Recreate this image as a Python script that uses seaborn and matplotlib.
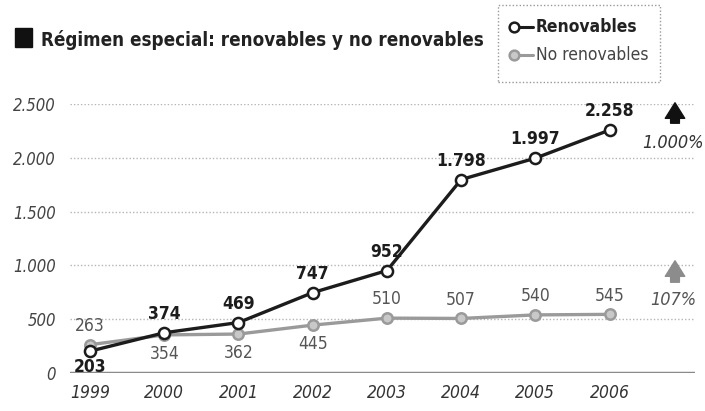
import numpy as np
import pandas as pd
import seaborn as sns
import matplotlib.pyplot as plt
from matplotlib import font_manager
from matplotlib.patches import Rectangle, FancyArrowPatch
from matplotlib.lines import Line2D

# datos (MW)
years = [1999, 2000, 2001, 2002, 2003, 2004, 2005, 2006]
renovables = [203, 374, 469, 747, 952, 1798, 1997, 2258]
no_renovables = [263, 354, 362, 445, 510, 507, 540, 545]
y_ticks = [0, 500, 1000, 1500, 2000, 2500]
y_tick_labels = ['0', '500', '1.000', '1.500', '2.000', '2.500']
# etiqueta encima (True) o debajo (False)
renov_above = [False, True, True, True, True, True, True, True]
norenov_above = [True, False, False, False, True, True, True, True]

sns.set_style('white')
# buscar una fuente estrecha, si no hay usar Liberation Sans
f = font_manager.findfont(font_manager.FontProperties(family='DejaVu Sans', stretch='condensed'))
if 'Condensed' in f:
    plt.rcParams['font.family'] = ['DejaVu Sans']
    plt.rcParams['font.stretch'] = 'condensed'
else:
    plt.rcParams['font.family'] = ['Liberation Sans', 'DejaVu Sans']

df = pd.DataFrame({'year': years, 'Renovables': renovables, 'No renovables': no_renovables})

fig = plt.figure(figsize=(7.05, 4.11), dpi=100)
W, H = 705, 411
ax = fig.add_axes([70 / W, 1 - 373 / H, (695 - 70) / W, (373 - 104) / H])

black = '#1c1c1c'
gray = '#9a9a9a'

# gridlines
for t in y_ticks[1:]:
    ax.axhline(t, color='#b5b5b5', lw=1, ls=(0, (1, 1.5)), zorder=0)
ax.axhline(0, color='#8a8a8a', lw=2.5, zorder=1)

sns.lineplot(data=df, x='year', y='No renovables', ax=ax, color=gray, lw=2.4,
             marker='o', markersize=7.5, markerfacecolor='#c8c8c8',
             markeredgecolor=gray, markeredgewidth=1.8, zorder=3)
sns.lineplot(data=df, x='year', y='Renovables', ax=ax, color=black, lw=2.4,
             marker='o', markersize=8, markerfacecolor='white',
             markeredgecolor=black, markeredgewidth=1.8, zorder=4)

def fmt(v):
    return f'{v:,}'.replace(',', '.')

for x, v, up in zip(years, renovables, renov_above):
    ax.annotate(fmt(v), (x, v), xytext=(0, 7 if up else -5), textcoords='offset points',
                ha='center', va='bottom' if up else 'top', fontsize=12.5,
                fontweight='bold', color=black, zorder=5)
for x, v, up in zip(years, no_renovables, norenov_above):
    ax.annotate(fmt(v), (x, v), xytext=(0, 7 if up else -7), textcoords='offset points',
                ha='center', va='bottom' if up else 'top', fontsize=12.5,
                color='#555555', zorder=5)

ax.set_xlim(1999 - 0.27, 2006 + 1.15)
ax.set_ylim(0, 2500)
ax.set_xticks(years)
ax.set_xticklabels([str(y) for y in years], fontstyle='italic', fontsize=12.5, color='#333333')
ax.set_yticks(y_ticks)
ax.set_yticklabels(y_tick_labels, fontstyle='italic', fontsize=12, color='#444444')
ax.tick_params(axis='x', length=0, pad=8)
ax.tick_params(axis='y', length=0, pad=10)
ax.set_xlabel('')
ax.set_ylabel('')
for s in ax.spines.values():
    s.set_visible(False)

# titulo
fig.patches.append(Rectangle((15 / W, 1 - 47 / H), 17 / W, 19 / H, transform=fig.transFigure,
                             color='#111111'))
fig.text(41 / W, 1 - 40 / H, 'Régimen especial: renovables y no renovables',
         fontsize=13.5, fontweight='bold', color='#222222', va='center', ha='left')

# leyenda
fig.patches.append(Rectangle((498 / W, 1 - 82 / H), 162 / W, 77 / H, transform=fig.transFigure,
                             fill=False, edgecolor='#999999', lw=1, ls=(0, (1, 1.5))))
fig.lines.append(Line2D([510 / W, 533 / W], [1 - 27 / H] * 2, transform=fig.transFigure,
                        color=black, lw=2.2))
fig.lines.append(Line2D([514 / W], [1 - 27 / H], transform=fig.transFigure, marker='o',
                        markersize=7, markerfacecolor='white', markeredgecolor=black,
                        markeredgewidth=1.8))
fig.text(536 / W, 1 - 27 / H, 'Renovables', fontsize=12.5, fontweight='bold',
         color='#222222', va='center')
fig.lines.append(Line2D([510 / W, 533 / W], [1 - 55 / H] * 2, transform=fig.transFigure,
                        color=gray, lw=2.2))
fig.lines.append(Line2D([514 / W], [1 - 55 / H], transform=fig.transFigure, marker='o',
                        markersize=7, markerfacecolor='#c8c8c8', markeredgecolor=gray,
                        markeredgewidth=1.8))
fig.text(536 / W, 1 - 55 / H, 'No renovables', fontsize=12.5, color='#444444', va='center')

# flechas de crecimiento
arrow = 'simple,head_width=1.0,head_length=0.8,tail_width=0.45'
fig.patches.append(FancyArrowPatch((675 / W, 1 - 126 / H), (675 / W, 1 - 100 / H),
                                   transform=fig.transFigure, arrowstyle=arrow,
                                   mutation_scale=14, color='#111111'))
fig.text(673 / W, 1 - 143 / H, '1.000%', fontsize=13, fontstyle='italic',
         color='#333333', ha='center', va='center')
fig.patches.append(FancyArrowPatch((675 / W, 1 - 285 / H), (675 / W, 1 - 258 / H),
                                   transform=fig.transFigure, arrowstyle=arrow,
                                   mutation_scale=14, color='#8c8c8c'))
fig.text(673 / W, 1 - 300 / H, '107%', fontsize=13, fontstyle='italic',
         color='#555555', ha='center', va='center')

fig.savefig('out.png', dpi=100)
